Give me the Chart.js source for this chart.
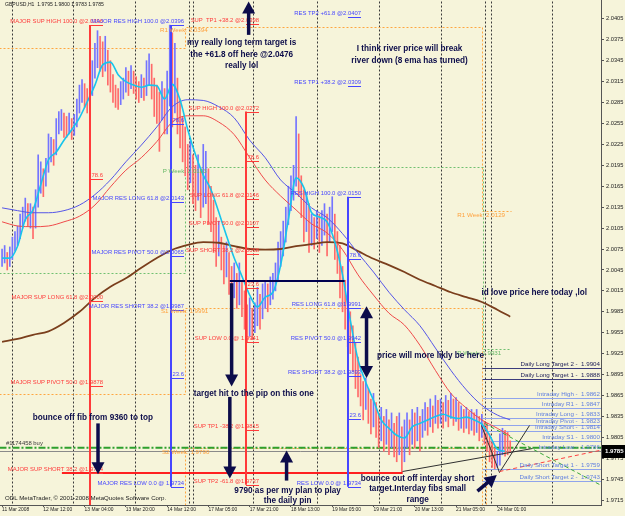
<!DOCTYPE html>
<html><head><meta charset="utf-8">
<script src="https://cdn.jsdelivr.net/npm/chart.js@4.4.1/dist/chart.umd.min.js"></script>
<style>html,body{margin:0;padding:0;background:#f6f4da;overflow:hidden}canvas{display:block}</style>
</head><body>
<canvas id="c" width="625" height="516" style="width:625px;height:516px"></canvas>
<script>
// ---------------- DATA ----------------
const titleText = 'GBPUSD,H1  1.9795 1.9800 1.9783 1.9785';
const copyrightText = 'ODL MetaTrader, \u00a9 2001-2008 MetaQuotes Software Corp.';
const xTickIdx = [0,16,32,48,64,80,96,112,128,144,160,176,192];
const xTickLabels = ['11 Mar 2008','12 Mar 12:00','13 Mar 04:00','13 Mar 20:00','14 Mar 12:00','17 Mar 05:00','17 Mar 21:00','18 Mar 13:00','19 Mar 05:00','19 Mar 21:00','20 Mar 13:00','21 Mar 05:00','24 Mar 01:00'];
const yTickLabels = ['2.0405','2.0375','2.0345','2.0315','2.0285','2.0255','2.0225','2.0195','2.0165','2.0135','2.0105','2.0075','2.0045','2.0015','1.9985','1.9955','1.9925','1.9895','1.9865','1.9835','1.9805','1.9775','1.9745','1.9715'];
const daySeparators = [3.9,27.5,51.5,72.4,73.9,97.2,122,146,170,187.4,189.7,213.3];

// hourly bars
const barHigh = [
2.0075,2.0080,2.0070,2.0078, 2.0092,2.0100,2.0108,2.0125, 2.0135, 2.0148,2.0140,2.0140,2.0135,
2.0160,2.0210,2.0200,2.0190, 2.0205,2.0240,2.0235,2.0232, 2.0262,2.0272,2.0275,2.0270,
2.0265,2.0270,2.0262,2.0268, 2.0290,2.0310,2.0318,2.0312, 2.0305,2.0310, 2.0345,2.0370,2.0388,
2.0380,2.0372, 2.0380,2.0360,2.0345, 2.0325,2.0310,2.0305,2.0315, 2.0320,2.0335,2.0330,2.0338,2.0330,
2.0322,2.0315,2.0325,2.0320, 2.0345,2.0355,2.0340,2.0320, 2.0310,2.0300,2.0315,2.0305,
2.0330,2.0396,2.0385,2.0370, 2.0320,2.0290,2.0265, 2.0250,2.0225,2.0230,2.0210,
2.0195,2.0210,2.0190,2.0225,2.0215,2.0190, 2.0165,2.0145,2.0120,2.0115,
2.0092,2.0080,2.0085,2.0070,2.0050,2.0055, 2.0040,2.0055,2.0030, 2.0015,1.9995,2.0005,1.9990,
1.9998,2.0020,2.0010,2.0025, 2.0030,2.0025,2.0035,2.0040, 2.0055,2.0085,2.0100,2.0115,
2.0135,2.0165,2.0180,2.0195, 2.0265,2.0240, 2.0180,2.0160,2.0155,2.0140, 2.0125,2.0120,2.0130,2.0125,
2.0130,2.0140,2.0125,2.0135,2.0150, 2.0125,2.0100,2.0080,2.0050, 2.0030,2.0000,
1.9985,1.9965,1.9940,1.9920, 1.9895,1.9885,1.9890,1.9875,1.9860,1.9868,
1.9855,1.9840,1.9848,1.9835,1.9845,1.9830,1.9840,1.9825, 1.9835,1.9840,1.9820,1.9830,
1.9840,1.9830,1.9845,1.9840,1.9848,1.9835, 1.9845,1.9855,1.9848,1.9860,1.9850,1.9865,1.9858,
1.9860,1.9855,1.9865,1.9858,1.9868,1.9860,1.9862,1.9855, 1.9850,1.9845,1.9848,1.9842,1.9845,1.9840,
1.9845,1.9835,1.9838,1.9828, 1.9825,1.9810,1.9800,1.9790, 1.9785,1.9810,1.9818,1.9815, 1.9812,1.9800];
const barLow = [
2.0050,2.0055,2.0045,2.0050, 2.0060,2.0072,2.0080,2.0090, 2.0105, 2.0115,2.0108,2.0105,2.0090,
2.0105,2.0135,2.0155,2.0150, 2.0165,2.0185,2.0200,2.0195, 2.0210,2.0240,2.0245,2.0235,
2.0235,2.0240,2.0232,2.0238, 2.0250,2.0270,2.0285,2.0278, 2.0270,2.0280, 2.0295,2.0320,2.0335,
2.0330,2.0322, 2.0330,2.0310,2.0300, 2.0285,2.0278,2.0275,2.0282, 2.0290,2.0300,2.0295,2.0305,2.0298,
2.0290,2.0285,2.0292,2.0288, 2.0295,2.0310,2.0290,2.0265, 2.0255,2.0215,2.0260,2.0240,
2.0240,2.0280,2.0250,2.0270, 2.0240,2.0220,2.0200, 2.0180,2.0160,2.0170,2.0140,
2.0130,2.0145,2.0120,2.0135,2.0140,2.0110, 2.0100,2.0070,2.0050,2.0065,
2.0045,2.0025,2.0035,2.0010,1.9998,2.0005, 1.9990,1.9995,1.9978, 1.9960,1.9941,1.9950,1.9945,
1.9955,1.9965,1.9960,1.9975, 1.9990,1.9985,1.9995,2.0003, 2.0015,2.0030,2.0050,2.0065,
2.0085,2.0110,2.0130,2.0145, 2.0165,2.0150, 2.0120,2.0085,2.0100,2.0070, 2.0080,2.0075,2.0090,2.0070,
2.0080,2.0095,2.0065,2.0085,2.0100, 2.0060,2.0040,2.0005,1.9985, 1.9960,1.9935,
1.9925,1.9900,1.9875,1.9863, 1.9850,1.9830,1.9845,1.9825,1.9810,1.9820,
1.9805,1.9790,1.9800,1.9785,1.9795,1.9780,1.9790,1.9777, 1.9770,1.9780,1.9755,1.9770,
1.9790,1.9780,1.9795,1.9790,1.9800,1.9785, 1.9805,1.9815,1.9808,1.9820,1.9812,1.9825,1.9818,
1.9825,1.9818,1.9828,1.9820,1.9832,1.9822,1.9828,1.9815, 1.9818,1.9812,1.9818,1.9810,1.9815,1.9808,
1.9812,1.9800,1.9805,1.9795, 1.9785,1.9770,1.9762,1.9760, 1.9762,1.9765,1.9780,1.9778, 1.9780,1.9783];
const barClose = [
2.0060,2.0068,2.0052,2.0063, 2.0080,2.0088,2.0095,2.0105, 2.0125, 2.0135,2.0120,2.0128,2.0110,
2.0140,2.0165,2.0180,2.0170, 2.0190,2.0210,2.0225,2.0215, 2.0245,2.0258,2.0262,2.0250,
2.0248,2.0255,2.0240,2.0250, 2.0275,2.0295,2.0305,2.0290, 2.0285,2.0300, 2.0330,2.0350,2.0365,
2.0350,2.0340, 2.0355,2.0335,2.0315, 2.0300,2.0290,2.0285,2.0298, 2.0305,2.0318,2.0310,2.0325,2.0315,
2.0305,2.0298,2.0310,2.0300, 2.0320,2.0335,2.0315,2.0300, 2.0285,2.0270,2.0295,2.0260,
2.0300,2.0340,2.0320,2.0330, 2.0280,2.0250,2.0235, 2.0215,2.0190,2.0200,2.0175,
2.0160,2.0175,2.0150,2.0165,2.0180,2.0150, 2.0130,2.0110,2.0085,2.0095,
2.0070,2.0050,2.0060,2.0040,2.0020,2.0030, 2.0010,2.0020,1.9995, 1.9980,1.9965,1.9975,1.9960,
1.9975,1.9990,1.9980,1.9995, 2.0005,1.9995,2.0010,2.0020, 2.0035,2.0060,2.0075,2.0090,
2.0110,2.0140,2.0155,2.0170, 2.0200,2.0185, 2.0150,2.0120,2.0130,2.0105, 2.0110,2.0095,2.0115,2.0100,
2.0105,2.0120,2.0098,2.0110,2.0125, 2.0090,2.0070,2.0045,2.0020, 1.9990,1.9965,
1.9950,1.9930,1.9905,1.9890, 1.9875,1.9855,1.9870,1.9850,1.9835,1.9848,
1.9830,1.9815,1.9825,1.9810,1.9820,1.9805,1.9815,1.9800, 1.9790,1.9805,1.9780,1.9795,
1.9810,1.9800,1.9820,1.9815,1.9825,1.9810, 1.9825,1.9835,1.9828,1.9840,1.9832,1.9845,1.9838,
1.9842,1.9835,1.9845,1.9838,1.9850,1.9840,1.9845,1.9835, 1.9838,1.9830,1.9835,1.9828,1.9832,1.9825,
1.9830,1.9818,1.9822,1.9810, 1.9800,1.9790,1.9775,1.9768, 1.9770,1.9790,1.9800,1.9795, 1.9790,1.9785];
const firstOpen = 2.0058;

// moving averages (fast one every 3 bars, slow ones every 6 bars)
const emaFast = [2.0062,2.0062,2.0079,2.0117,2.0131,2.0167,2.0203,2.0214,2.0231,2.0246,
2.0263,2.0286,2.0310,2.0339,2.0343,2.0325,2.0315,2.0310,2.0307,2.0310,
2.0309,2.0290,2.0311,2.0289,2.0246,2.0210,2.0181,2.0160,2.0128,2.0094,
2.0062,2.0036,2.0009,1.9992,2.0006,2.0013,2.0052,2.0117,2.0177,2.0163,
2.0127,2.0121,2.0114,2.0085,2.0038,1.9973,1.9916,1.9884,1.9858,1.9830,
1.9818,1.9808,1.9804,1.9820,1.9825,1.9830,1.9835,1.9838,1.9834,1.9832,
1.9834,1.9830,1.9824,1.9808,1.9788,1.9785];
const maBlue = [2.0134,2.0130,2.0127,2.0127,2.0130,2.0138,2.0153,2.0174,2.0200,2.0224,
2.0250,2.0279,2.0289,2.0288,2.0279,2.0263,2.0231,2.0206,2.0174,2.0155,
2.0134,2.0120,2.0097,2.0069,2.0042,2.0013,1.9988,1.9965,1.9933,1.9901,
1.9873,1.9851,1.9837,1.9830];
const maRed = [2.0114,2.0108,2.0107,2.0108,2.0114,2.0122,2.0138,2.0164,2.0188,2.0206,
2.0229,2.0257,2.0266,2.0266,2.0257,2.0239,2.0206,2.0174,2.0151,2.0131,
2.0111,2.0098,2.0074,2.0038,2.0009,1.9983,1.9966,1.9937,1.9901,1.9868,
1.9847,1.9830,1.9818,1.9807];
const maBrown = [1.9942,1.9946,1.9952,1.9957,1.9969,1.9985,2.0005,2.0021,2.0033,2.0048,
2.0062,2.0074,2.0081,2.0085,2.0084,2.0079,2.0075,2.0074,2.0075,2.0079,
2.0082,2.0085,2.0083,2.0072,2.0061,2.0052,2.0042,2.0031,2.0022,2.0013,
2.0006,1.9999,1.9988,1.9978];

// fibonacci tools: [bar, top, bottom], levels, labels
const fibMajorSupLine = [34.0, 2.0396, 1.9600];
const fibMajorSupLevels = [2.0396, 2.0175, 2.0000, 1.9878, 1.9754];
const fibMajorSupLabels = ['MAJOR SUP HIGH 100.0 @2.0396','78.6','MAJOR SUP LONG 61.8 @2.0000','MAJOR SUP PIVOT 50.0 @1.9878','MAJOR SUP SHORT 38.2 @1.9754'];
const fibMajorResLine = [65.6, 2.0396, 1.9734];
const fibMajorResLevels = [2.0396, 2.0254, 2.0143, 2.0065, 1.9987, 1.9890, 1.9734];
const fibMajorResLabels = ['MAJOR RES HIGH 100.0 @2.0396','78.6','MAJOR RES LONG 61.8 @2.0143','MAJOR RES PIVOT 50.0 @2.0065','MAJOR RES SHORT 38.2 @1.9987','23.6','MAJOR RES LOW 0.0 @ 1.9734'];
const fibSupLine = [94.5, 2.0272, 1.9737];
const fibSupLevels = [2.0398, 2.0272, 2.0201, 2.0146, 2.0107, 2.0068, 2.0019, 1.9941, 1.9815, 1.9737];
const fibSupLabels = ['SUP  TP1 +38.2 @2.0398','SUP HIGH 100.0 @2.0272','78.6','SUP LONG 61.8 @2.0146','SUP PIVOT 50.0 @2.0107','SUP SHORT 38.2 @2.0068','23.6','SUP LOW 0.0 @ 1.9941','SUP TP1 -38.2 @1.9815','SUP TP2 -61.8 @1.9737'];
const fibResLine = [134.0, 2.0150, 1.9734];
const fibResLevels = [2.0407, 2.0309, 2.0150, 2.0061, 1.9991, 1.9942, 1.9893, 1.9832, 1.9734];
const fibResLabels = ['RES TP2 +61.8 @2.0407','RES TP1 +38.2 @2.0309','RES HIGH 100.0 @2.0150','78.6','RES LONG 61.8 @1.9991','RES PIVOT 50.0 @1.9942','RES SHORT 38.2 @1.9893','23.6','RES LOW 0.0 @ 1.9734'];

// weekly pivots (step lines) and their labels
const weekR1 = [[-1,2.0363],[70.8,2.0363],[70.8,2.0394],[186.2,2.0394],[186.2,2.0129],[197.5,2.0129]];
const weekP  = [[-1,2.0041],[70.8,2.0041],[70.8,2.0193],[186.6,2.0193],[186.6,1.9931],[197.5,1.9931]];
const weekS1 = [[-1,1.9867],[70.8,1.9867],[70.8,1.9991],[186.2,1.9991],[186.2,1.9650]];
const weekS2 = [[70.8,1.9650],[70.8,1.9790],[187.6,1.9790],[187.6,1.9650]];
const weekLabels = [['R1 Week: 2.0394',61.2,2.0394],['P Week: 2.0193',62.3,2.0193],['S1 Week: 1.9991',61.6,1.9991],['S2 Week: 1.9790',62.0,1.9790],['R1 Week: 2.0129',176.5,2.0129],['P Week: 1.9931',176.5,1.9931]];
const weekLabelKind = ['o','g','o','o','o','g'];

// daily / intraday levels (right side)
const dailyNames = ['Daily Long Target 2 -  1.9904','Daily Long Target 1 -  1.9888','Intraday High -  1.9862','Intraday R1 -  1.9847','Intraday Long -  1.9833','Intraday Pivot -  1.9823','Intraday Short -  1.9814','Intraday S1 -  1.9800','Intraday Low -  1.9786','Daily Short Target 1 -  1.9759','Daily Short Target 2 -  1.9743'];
const dailyValues = [1.9904,1.9888,1.9862,1.9847,1.9833,1.9823,1.9814,1.9800,1.9786,1.9759,1.9743];
const dailyStart = 186.2;

// order / price lines
const orderPrice = 1.9790, orderLabel = '#1174458 buy';
const bidPrice = 1.9785;

// user drawn lines
const redSupportLine = [[23.2,1.9754],[155.3,1.9754]];
const navyLevelLine = [[88.3,2.0029],[132.8,2.0029]];
const trendBlack1 = [[155.2,1.9757],[205.6,1.9790]];
const trendBlackV = [[185.8,1.9823],[192.8,1.9755],[204.4,1.9823]];
const trendGreen = [[187.0,1.9826],[231.5,1.9738]];
const trendRed = [[192.8,1.9757],[231.5,1.9787]];

// arrows [from, to, both?]
const arrows = [
  [[89.0,2.0026],[89.0,1.9878],false],
  [[88.3,1.9863],[88.3,1.9746],false],
  [[110.3,1.9743],[110.3,1.9786],false],
  [[37.2,1.9825],[37.2,1.9752],false],
  [[95.6,2.0382],[95.6,2.0430],false],
  [[141.3,1.9993],[141.3,1.9890],true],
  [[184.3,1.9728],[191.8,1.9751],false]
];

// notes: [text, bar (centre), price (middle)]
const notes = [
  ['my really long term target is',92.9,2.0371],
  ['the +61.8 off here @2.0476',92.9,2.0353],
  ['really lol',92.9,2.0338],
  ['I think river price will break',158.0,2.0362],
  ['river down (8 ema has turned)',158.0,2.0345],
  ['id love price here today ,lol',206.3,2.0012],
  ['price will more likly be here',166.1,1.9922],
  ['target hit to the pip on this one',97.6,1.9868],
  ['bounce off fib from 9360 to top',35.2,1.9833],
  ['9790 as per my plan to play',110.7,1.9729],
  ['the daily pin',110.7,1.9714],
  ['bounce out off interday short',161.1,1.9745],
  ['target.Interday fibs small',161.1,1.9731],
  ['range',161.1,1.9716]
];

// ---------------- STYLE / FONTS ----------------
const BG = '#f6f4da', NAVY = '#0c0c4a', RED = '#ff3a3a', BLUE = '#4646ff';
function hasFont(name){const c=document.createElement('canvas').getContext('2d');c.font='30px monospace';const a=c.measureText('MMMWWwwiil10').width;c.font='30px "'+name+'", monospace';return c.measureText('MMMWWwwiil10').width!==a;}
const NARROW = hasFont('Liberation Sans Narrow');
const FAM = NARROW ? 'Liberation Sans Narrow' : 'Liberation Sans';
const K = NARROW ? 1 : 0.82;
function F(size,bold){return (bold?'bold ':'')+(size*K).toFixed(1)+'px "'+FAM+'"';}

// ---------------- BUILD ----------------
const barData = [], barColors = [];
barHigh.forEach((h,i)=>{
  const o = i===0 ? firstOpen : barClose[i-1];
  barData.push({x:i, y:[barLow[i], h]});
  barColors.push(barClose[i] >= o ? '#7474ff' : '#ff6a6a');
});
const fastPts = emaFast.map((v,k)=>({x:k*3, y:v}));
const slowX = k => Math.min(k*6, barClose.length-1);
const bluePts = maBlue.map((v,k)=>({x:slowX(k), y:v}));
const redPts = maRed.map((v,k)=>({x:slowX(k), y:v}));
const brownPts = maBrown.map((v,k)=>({x:slowX(k), y:v}));

const overlay = {
  id:'overlay',
  beforeDraw(c){const ctx=c.ctx;ctx.save();ctx.fillStyle=BG;ctx.fillRect(0,0,c.width,c.height);ctx.restore();},
  beforeDatasetsDraw(c){
    const ctx=c.ctx, A=c.chartArea, X=v=>c.scales.x.getPixelForValue(v), Y=v=>c.scales.y.getPixelForValue(v);
    ctx.save(); ctx.beginPath(); ctx.rect(A.left,A.top,A.right-A.left,A.bottom-A.top); ctx.clip();
    const poly=(pts,col,w,dash)=>{ctx.save();ctx.strokeStyle=col;ctx.lineWidth=w;ctx.setLineDash(dash||[]);ctx.beginPath();pts.forEach((p,k)=>{let px=X(p[0]),py=Y(p[1]);if(w%2===1){px=Math.round(px)+0.5;py=Math.round(py)+0.5;}k?ctx.lineTo(px,py):ctx.moveTo(px,py);});ctx.stroke();ctx.restore();};
    daySeparators.forEach(d=>poly([[d,2.05],[d,1.96]],'#3a3a3a',1,[2,2]));
    poly(weekR1,'#ffa640',1,[2,2]);
    poly(weekS1,'#ffa640',1,[2,2]);
    poly(weekS2,'#ffa640',1,[2,2]);
    poly(weekP,'#70c070',1,[2,2]);
    dailyValues.forEach((v,k)=>{
      const dark = dailyNames[k].indexOf('Daily Long')===0;
      poly([[dailyStart,v],[240,v]], dark?'#3c3c7c':'#90a4ec',1);
    });
    poly([[-1,bidPrice],[240,bidPrice]],'#8a8a8a',1);
    poly([[-1,orderPrice],[240,orderPrice]],'#2ea02e',2,[7,2,2,2]);
    ctx.restore();
  },
  afterDatasetsDraw(c){
    const ctx=c.ctx, A=c.chartArea, X=v=>c.scales.x.getPixelForValue(v), Y=v=>c.scales.y.getPixelForValue(v);
    ctx.save(); ctx.beginPath(); ctx.rect(A.left,A.top,A.right-A.left,A.bottom-A.top); ctx.clip();
    const poly=(pts,col,w,dash)=>{ctx.save();ctx.strokeStyle=col;ctx.lineWidth=w;ctx.setLineDash(dash||[]);ctx.beginPath();pts.forEach((p,k)=>{let px=X(p[0]),py=Y(p[1]);if(w%2===1){px=Math.round(px)+0.5;py=Math.round(py)+0.5;}k?ctx.lineTo(px,py):ctx.moveTo(px,py);});ctx.stroke();ctx.restore();};
    const txt=(s,px,py,col,font,align,base)=>{ctx.save();ctx.font=font;ctx.fillStyle=col;ctx.textAlign=align;ctx.textBaseline=base;ctx.fillText(s,px,py);ctx.restore();};
    poly(redSupportLine,'#ff2020',2);
    poly(navyLevelLine,'#000050',2);
    poly(trendBlack1,'#303030',1);
    poly(trendBlackV,'#303030',1);
    poly(trendGreen,'#3aa83a',1,[4,3]);
    poly(trendRed,'#ff4040',1,[4,3]);
    const fib=(line,levels,labels,col)=>{
      const x0=X(line[0]);
      ctx.save();ctx.strokeStyle=col;ctx.lineWidth=2;ctx.beginPath();ctx.moveTo(Math.round(x0),Y(line[1]));ctx.lineTo(Math.round(x0),Y(line[2]));ctx.stroke();ctx.restore();
      levels.forEach((v,k)=>{
        const y=Math.round(Y(v))+0.5;
        ctx.save();ctx.strokeStyle=col;ctx.lineWidth=1;ctx.beginPath();ctx.moveTo(Math.round(x0),y);ctx.lineTo(Math.round(x0)+13,y);ctx.stroke();ctx.restore();
        txt(labels[k],Math.round(x0)+13,y-1,col,F(7.2),'right','bottom');
      });
    };
    fib(fibMajorSupLine,fibMajorSupLevels,fibMajorSupLabels,RED);
    fib(fibMajorResLine,fibMajorResLevels,fibMajorResLabels,BLUE);
    fib(fibSupLine,fibSupLevels,fibSupLabels,RED);
    fib(fibResLine,fibResLevels,fibResLabels,BLUE);
    weekLabels.forEach((w,k)=>txt(w[0],X(w[1]),Y(w[2])+1,weekLabelKind[k]==='o'?'#ffa03c':'#66b866',F(7.6),'left','top'));
    dailyNames.forEach((s,k)=>{
      const dark=s.indexOf('Daily Long')===0;
      txt(s,A.right-1,Math.round(Y(dailyValues[k]))-1,dark?'#22225a':'#5f7fe0',F(7.6),'right','bottom');
    });
    txt(orderLabel,X(1.5),Y(orderPrice)-1,'#3a3a3a',F(7.2),'left','bottom');
    const head=(x,y,a)=>{const hl=12,hw=6.5;ctx.beginPath();ctx.moveTo(x,y);ctx.lineTo(x-Math.cos(a)*hl-Math.sin(a)*hw,y-Math.sin(a)*hl+Math.cos(a)*hw);ctx.lineTo(x-Math.cos(a)*hl+Math.sin(a)*hw,y-Math.sin(a)*hl-Math.cos(a)*hw);ctx.closePath();ctx.fill();};
    arrows.forEach(ar=>{
      const x1=X(ar[0][0]),y1=Y(ar[0][1]),x2=X(ar[1][0]),y2=Y(ar[1][1]);
      const a=Math.atan2(y2-y1,x2-x1);
      ctx.save();ctx.strokeStyle=NAVY;ctx.fillStyle=NAVY;ctx.lineWidth=3.5;
      ctx.beginPath();ctx.moveTo(ar[2]?x1+Math.cos(a)*10:x1,ar[2]?y1+Math.sin(a)*10:y1);ctx.lineTo(x2-Math.cos(a)*10,y2-Math.sin(a)*10);ctx.stroke();
      head(x2,y2,a); if(ar[2]) head(x1,y1,a+Math.PI);
      ctx.restore();
    });
    notes.forEach(n=>txt(n[0],X(n[1]),Y(n[2]),NAVY,F(10,true),'center','middle'));
    txt(titleText,A.left+5,A.top+2,'#222',F(6.2),'left','top');
    txt(copyrightText,A.left+5,A.bottom-4,'#222',F(7.4),'left','bottom');
    ctx.restore();
  },
  afterDraw(c){
    const ctx=c.ctx, A=c.chartArea, y=Math.round(c.scales.y.getPixelForValue(bidPrice));
    ctx.save();ctx.fillStyle='#000';ctx.fillRect(A.right+1,y-6,c.width-A.right-1,13);
    ctx.fillStyle='#fff';ctx.font=F(7.4,true);ctx.textAlign='left';ctx.textBaseline='middle';ctx.fillText(bidPrice.toFixed(4),A.right+4,y+0.5);
    ctx.restore();
  }
};

new Chart(document.getElementById('c'), {
  data:{datasets:[
    {type:'line',data:fastPts,borderColor:'#18c4ec',borderWidth:1.6,pointRadius:0,cubicInterpolationMode:'monotone',order:1},
    {type:'line',data:bluePts,borderColor:'#5555e8',borderWidth:1,pointRadius:0,cubicInterpolationMode:'monotone',order:2},
    {type:'line',data:redPts,borderColor:'#f04a4a',borderWidth:1,pointRadius:0,cubicInterpolationMode:'monotone',order:3},
    {type:'line',data:brownPts,borderColor:'#7a3e1c',borderWidth:1.8,pointRadius:0,cubicInterpolationMode:'monotone',order:4},
    {type:'bar',data:barData,backgroundColor:barColors,borderWidth:0,barThickness:1,order:10}
  ]},
  options:{
    responsive:false, animation:false, devicePixelRatio:1,
    layout:{padding:0},
    events:[],
    plugins:{legend:{display:false},tooltip:{enabled:false},title:{display:false}},
    scales:{
      x:{type:'linear',offset:false,min:-0.8,max:232.2,position:'bottom',
        border:{display:true,color:'#555',width:1},
        grid:{display:true,offset:false,drawOnChartArea:false,drawTicks:true,tickLength:2,color:'#555'},
        ticks:{autoSkip:false,maxRotation:0,align:'start',padding:0,color:'#222',font:{family:FAM,size:+(6*K).toFixed(1)},callback:(v,i)=>xTickLabels[i]},
        afterBuildTicks:s=>{s.ticks=xTickIdx.map(v=>({value:v}));},
        afterFit:s=>{s.height=11;s.paddingLeft=0;s.paddingRight=0;}
      },
      y:{type:'linear',position:'right',min:1.9708,max:2.0432,
        border:{display:true,color:'#555',width:1},
        grid:{display:true,drawOnChartArea:false,drawTicks:true,tickLength:3,color:'#555'},
        ticks:{padding:2,color:'#222',font:{family:FAM,size:+(7*K).toFixed(1)},callback:(v,i)=>yTickLabels[i]},
        afterBuildTicks:s=>{s.ticks=yTickLabels.map(t=>({value:parseFloat(t)}));},
        afterFit:s=>{s.width=24;s.paddingTop=0;s.paddingBottom=0;}
      }
    }
  },
  plugins:[overlay]
});
</script>
</body></html>
